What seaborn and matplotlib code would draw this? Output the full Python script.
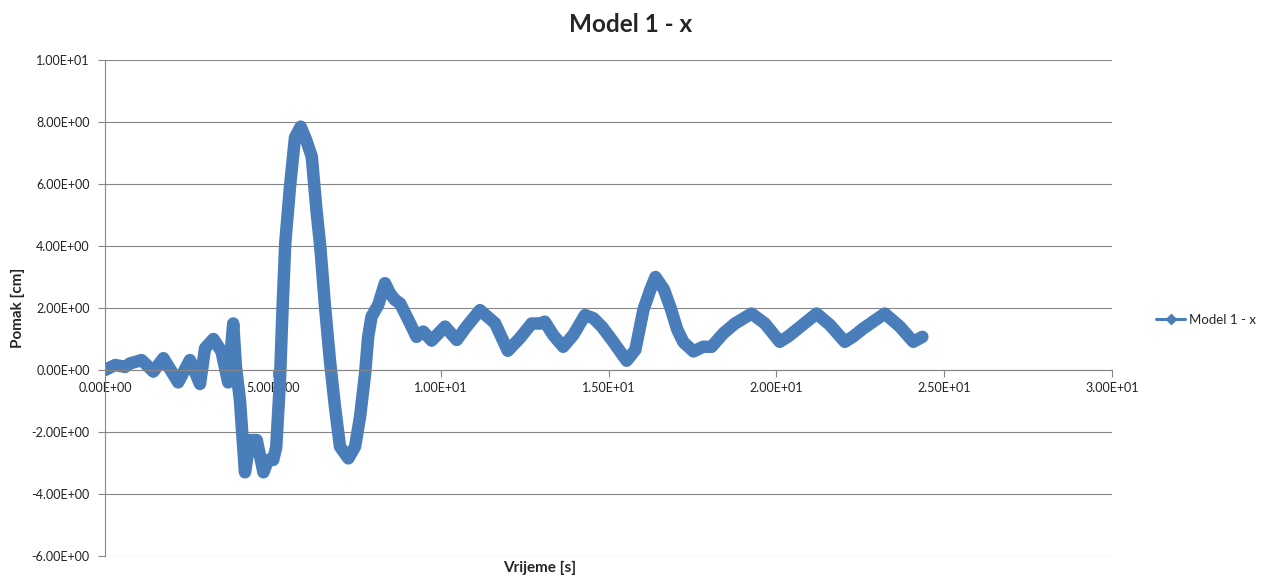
import numpy as np
import pandas as pd
import seaborn as sns
import matplotlib.pyplot as plt
from matplotlib.lines import Line2D
from matplotlib.ticker import FuncFormatter

# values
time_s = [0.0, 0.3, 0.6, 0.74, 1.09, 1.44, 1.74, 2.18, 2.53, 2.83,
          2.98, 3.23, 3.47, 3.67, 3.82, 3.9, 4.02, 4.17, 4.32, 4.52,
          4.72, 4.86, 5.01, 5.1, 5.21, 5.29, 5.37, 5.51, 5.66, 5.83,
          6.0, 6.16, 6.3, 6.42, 6.55, 6.7, 6.85, 7.0, 7.25, 7.45,
          7.6, 7.75, 7.84, 7.94, 8.14, 8.34, 8.49, 8.64, 8.79, 9.09,
          9.28, 9.48, 9.73, 10.13, 10.48, 10.77, 11.17, 11.62, 12.0, 12.36,
          12.71, 12.96, 13.1, 13.35, 13.65, 13.95, 14.3, 14.55, 14.8, 15.1,
          15.54, 15.8, 16.04, 16.25, 16.4, 16.65, 16.85, 17.05, 17.23, 17.53,
          17.82, 18.07, 18.42, 18.77, 19.26, 19.66, 20.1, 20.35, 20.65, 21.2,
          21.6, 22.04, 22.29, 22.59, 23.23, 23.68, 24.08, 24.35]
pomak_cm = [0.0, 0.16, 0.1, 0.21, 0.32, -0.05, 0.38, -0.4, 0.32, -0.45,
            0.7, 1.0, 0.6, -0.4, 1.5, 0.1, -0.97, -3.3, -2.26, -2.26,
            -3.3, -2.9, -2.9, -2.5, -0.4, 2.0, 4.1, 5.9, 7.5, 7.85,
            7.4, 6.88, 5.16, 3.9, 2.1, 0.32, -1.18, -2.47, -2.85, -2.47,
            -1.5, -0.1, 1.07, 1.72, 2.1, 2.8, 2.47, 2.26, 2.15, 1.5,
            1.07, 1.24, 0.95, 1.4, 0.97, 1.4, 1.93, 1.51, 0.62, 1.03,
            1.5, 1.5, 1.56, 1.13, 0.75, 1.13, 1.77, 1.67, 1.4, 0.97,
            0.3, 0.65, 1.94, 2.6, 3.0, 2.6, 2.0, 1.3, 0.9, 0.6,
            0.75, 0.75, 1.18, 1.5, 1.82, 1.5, 0.91, 1.08, 1.34, 1.82,
            1.45, 0.91, 1.08, 1.34, 1.82, 1.4, 0.91, 1.07]
series_name = 'Model 1 - x'

df = pd.DataFrame({'Vrijeme': time_s, 'Pomak': pomak_cm})

sns.set_style('white')
plt.rcParams['font.family'] = ['Lato', 'DejaVu Sans']
blue = '#4a7ebb'
grey = '#868686'

fig = plt.figure(figsize=(12.62, 5.77), dpi=100)
ax = fig.add_axes([105 / 1262, 1 - 556 / 577, (1112 - 105) / 1262, (556 - 60) / 577])

sns.lineplot(data=df, x='Vrijeme', y='Pomak', ax=ax, color=blue, linewidth=9,
             marker='D', markersize=6, markeredgewidth=0, sort=False, legend=False,
             solid_joinstyle='round', solid_capstyle='round')

ax.set_xlim(0, 30)
ax.set_ylim(-6, 10)
ax.set_xticks(np.arange(0, 31, 5))
ax.set_yticks(np.arange(-6, 11, 2))
sci = FuncFormatter(lambda v, p: f'{v:.2E}')
ax.xaxis.set_major_formatter(sci)
ax.yaxis.set_major_formatter(sci)

ax.grid(axis='y', color=grey, linewidth=0.8)
ax.grid(axis='x', visible=False)
ax.set_axisbelow(True)
for s in ['top', 'right']:
    ax.spines[s].set_visible(False)
ax.spines['bottom'].set_position(('data', 0))
ax.spines['bottom'].set_color(grey)
ax.spines['left'].set_color(grey)
ax.tick_params(axis='both', direction='out', length=5, color=grey, labelsize=9,
               labelcolor='#222222', bottom=True, left=True)
ax.tick_params(axis='y', pad=6)
ax.tick_params(axis='x', pad=4)
ax.set_xlabel('')
ax.set_ylabel('')

fig.text(0.5, 1 - 25 / 577, 'Model 1 - x', ha='center', va='center',
         fontsize=17.5, fontweight='bold')
fig.text(18 / 1262, 1 - 308 / 577, 'Pomak [cm]', rotation=90, ha='center',
         va='center', fontsize=11, fontweight='bold')
fig.text(540 / 1262, 1 - 568 / 577, 'Vrijeme [s]', ha='center', va='center',
         fontsize=11, fontweight='bold')

handle = Line2D([], [], color=blue, linewidth=2.2, marker='D', markersize=5)
fig.legend([handle], [series_name], loc='center left',
           bbox_to_anchor=(1156 / 1262, 1 - 320 / 577), frameon=False,
           fontsize=9.5, handlelength=2.2, handletextpad=0.3,
           borderpad=0, borderaxespad=0)

plt.savefig('out.png', dpi=100)
